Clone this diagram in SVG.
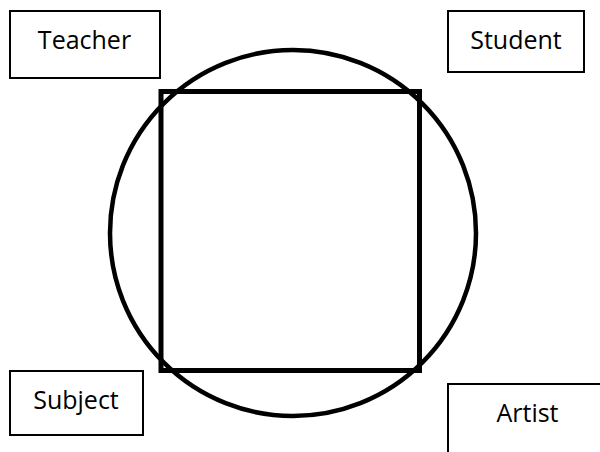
<svg xmlns="http://www.w3.org/2000/svg" width="600" height="452" viewBox="0 0 600 452">
<style>
.box{fill:#fff;stroke:#000;stroke-width:2}
.lbl{font-family:"Open Sans","Liberation Sans",sans-serif;font-size:25px;fill:#000;text-anchor:middle}
</style>
<rect width="600" height="452" fill="#fff"/>
<g id="shapes">
<circle id="circle" cx="293" cy="233" r="183" fill="none" stroke="#000" stroke-width="4.5"/>
<rect id="square" x="161" y="91.5" width="258.5" height="279" fill="none" stroke="#000" stroke-width="5"/>
</g>
<g id="teacher"><rect class="box" x="10" y="11" width="150" height="67"/><text class="lbl" x="84.5" y="49">Teacher</text></g>
<g id="student"><rect class="box" x="448" y="11" width="136" height="61"/><text class="lbl" x="516" y="48.5">Student</text></g>
<g id="subject"><rect class="box" x="10" y="371" width="133" height="64"/><text class="lbl" x="76" y="408.5">Subject</text></g>
<g id="artist"><rect class="box" x="448" y="384" width="170" height="90"/><text class="lbl" x="527.5" y="421.5">Artist</text></g>
</svg>
